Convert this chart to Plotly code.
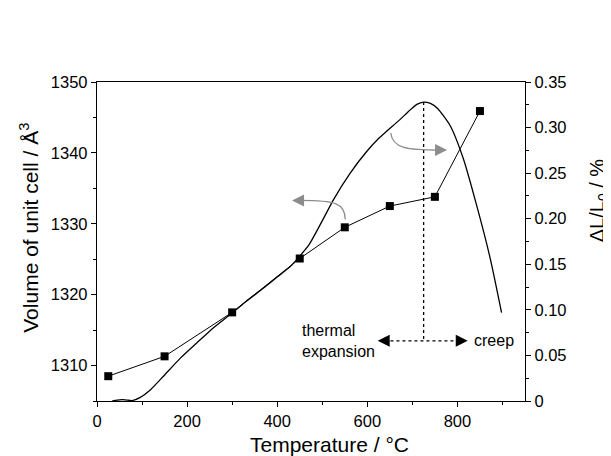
import plotly.graph_objects as go

# Unit-cell volume (left axis)
T_cell = [25, 150, 300, 450, 550, 650, 750, 850]
V_cell = [1308.5, 1311.3, 1317.5, 1325.1, 1329.5, 1332.5, 1333.8, 1345.9]

# Dilatometer curve dL/L0 (right axis)
T_dil = [34, 45, 56, 66, 78, 96, 120, 148, 185, 222, 260, 301, 330, 362, 400,
         430, 450, 470, 496, 525, 562, 599, 625, 643, 673, 692, 710, 725, 740,
         756, 784, 813, 843, 873, 898]
dL_dil = [0.0, 0.001, 0.0015, 0.001, 0.0005, 0.004, 0.013, 0.0275, 0.047, 0.064,
          0.081, 0.097, 0.109, 0.121, 0.136, 0.148, 0.159, 0.171, 0.194, 0.221,
          0.250, 0.274, 0.288, 0.296, 0.309, 0.318, 0.3255, 0.328, 0.3265,
          0.321, 0.302, 0.266, 0.214, 0.156, 0.097]

x_ticks = [0, 200, 400, 600, 800]
y1_ticks = [1310, 1320, 1330, 1340, 1350]
y2_ticks = [0, 0.05, 0.10, 0.15, 0.20, 0.25, 0.30, 0.35]
y2_ticktext = ["0", "0.05", "0.10", "0.15", "0.20", "0.25", "0.30", "0.35"]

# Annotation guide values
peak_T = 725
peak_dL = 0.328
guide_dL = 0.066
arrow_left_T = 623
arrow_right_T = 823

FONT = "Liberation Sans, Arial, sans-serif"
GRAY = "#8c8c8c"

fig = go.Figure()
fig.add_trace(go.Scatter(x=T_dil, y=dL_dil, mode="lines", yaxis="y2",
                         line=dict(color="black", width=1.3, shape="spline", smoothing=0.6),
                         showlegend=False, hoverinfo="skip"))
fig.add_trace(go.Scatter(x=T_cell, y=V_cell, mode="lines+markers",
                         line=dict(color="black", width=1),
                         marker=dict(symbol="square", size=8, color="black"),
                         showlegend=False, hoverinfo="skip"))

# dotted guides
fig.add_shape(type="line", xref="x", yref="y2", x0=peak_T, x1=peak_T,
              y0=peak_dL, y1=guide_dL, line=dict(color="black", width=1.3, dash="dot"))
fig.add_shape(type="line", xref="x", yref="y2", x0=arrow_left_T + 15, x1=arrow_right_T - 15,
              y0=guide_dL, y1=guide_dL, line=dict(color="black", width=1.3, dash="dot"))

# gray curved arrows (left axis coordinates)
fig.add_shape(type="path", xref="x", yref="y",
              path="M 551 1330.6 C 551 1332.9, 530 1333.3, 450 1333.3",
              line=dict(color=GRAY, width=1.3))
fig.add_shape(type="path", xref="x", yref="y",
              path="M 652 1342.8 C 656 1340.6, 690 1340.4, 760 1340.4",
              line=dict(color=GRAY, width=1.3))

ann = []
# arrowheads
for (xt, yt, ref, axo, col) in [
    (433, 1333.3, "y", 6, GRAY),
    (777, 1340.4, "y", -6, GRAY),
    (arrow_left_T, guide_dL, "y2", 6, "black"),
    (arrow_right_T, guide_dL, "y2", -6, "black"),
]:
    ann.append(dict(x=xt, y=yt, xref="x", yref=ref, text="", showarrow=True,
                    ax=axo, ay=0, arrowhead=2, arrowsize=2.4, arrowwidth=1,
                    arrowcolor=col))

ann.append(dict(x=450, y=guide_dL, xref="x", yref="y2", text="thermal<br>expansion",
                showarrow=False, xanchor="left", yanchor="middle", align="left",
                font=dict(family=FONT, size=16, color="black")))
ann.append(dict(x=833, y=guide_dL, xref="x", yref="y2", text="creep",
                showarrow=False, xanchor="left", yanchor="middle",
                font=dict(family=FONT, size=16, color="black")))

# axis titles
ann.append(dict(x=0.544, y=-0.137, xref="paper", yref="paper", text="Temperature / °C",
                showarrow=False, xanchor="center", yanchor="middle",
                font=dict(family=FONT, size=21, color="black")))
ann.append(dict(x=-0.159, y=0.543, xref="paper", yref="paper",
                text="Volume of unit cell / Å<sup>3</sup>", textangle=-90,
                showarrow=False, xanchor="center", yanchor="middle",
                font=dict(family=FONT, size=21, color="black")))
ann.append(dict(x=1.172, y=0.628, xref="paper", yref="paper",
                text="ΔL/L<sub>0</sub> / %", textangle=-90,
                showarrow=False, xanchor="center", yanchor="middle",
                font=dict(family=FONT, size=20, color="black")))

axis_common = dict(showgrid=False, zeroline=False, showline=True, linecolor="black",
                   linewidth=1.3, ticks="outside", ticklen=5, tickwidth=1.2,
                   tickcolor="black", tickfont=dict(family=FONT, size=16.5, color="black"))

# page body has an 8px margin, so the figure is sized to fit in the 611x456 window
fig.update_layout(
    width=603, height=448, autosize=False,
    margin=dict(l=89, r=86, t=74, b=55, pad=0),
    plot_bgcolor="white", paper_bgcolor="white",
    xaxis=dict(range=[0, 950], tickvals=x_ticks, mirror=True,
               minor=dict(dtick=100, tick0=0, ticklen=3, ticks="outside", tickcolor="black"),
               **axis_common),
    yaxis=dict(range=[1305, 1350], tickvals=y1_ticks,
               minor=dict(dtick=5, tick0=1305, ticklen=3, ticks="outside", tickcolor="black"),
               **axis_common),
    yaxis2=dict(range=[0, 0.35], overlaying="y", side="right", tickvals=y2_ticks,
                ticktext=y2_ticktext,
                minor=dict(dtick=0.025, tick0=0, ticklen=3, ticks="outside", tickcolor="black"),
                **axis_common),
    annotations=ann,
    showlegend=False,
)

fig.write_html("out.html", config={"displayModeBar": False})
